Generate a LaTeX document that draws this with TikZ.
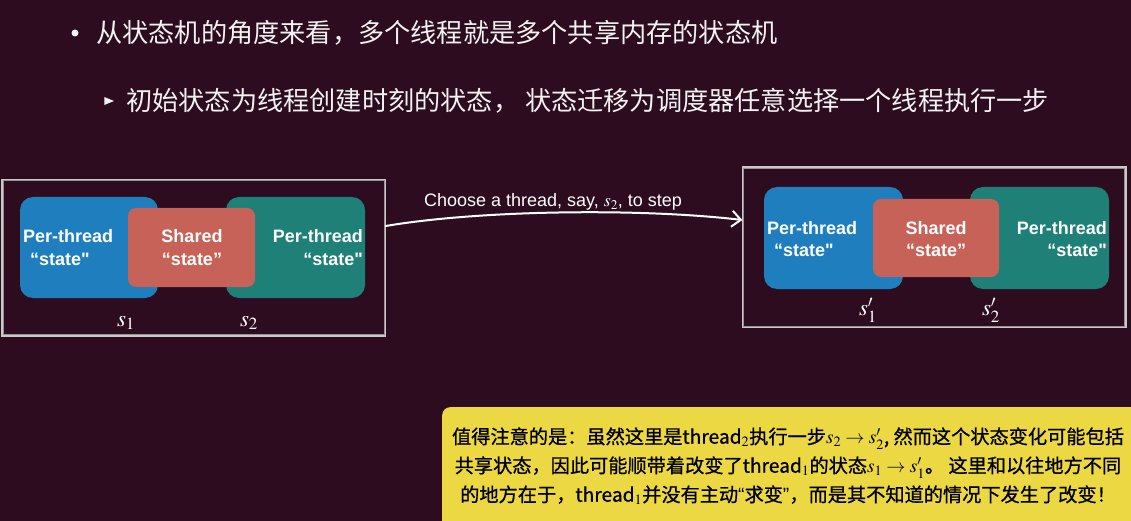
\documentclass[tikz,border=0pt]{standalone}
\usepackage{mathptmx}
\usepackage{fontspec}
\setmainfont{Liberation Sans}
\newfontfamily\sansfnt{Liberation Sans}
\newfontfamily\cjk{Noto Sans CJK SC}
\newfontfamily\cjknote{Noto Sans CJK SC}[FakeBold=0.8]
\usetikzlibrary{arrows.meta,shapes.geometric}

\definecolor{bgcol}{RGB}{44,12,30}
\definecolor{blueblk}{RGB}{31,126,190}
\definecolor{tealblk}{RGB}{31,128,120}
\definecolor{redblk}{RGB}{198,98,88}
\definecolor{framecol}{RGB}{200,200,200}
\definecolor{notecol}{RGB}{236,216,66}
\definecolor{titlecol}{RGB}{242,242,242}

\tikzset{
  frame/.style={draw=framecol, line width=1.3pt, rectangle, inner sep=0pt},
  frame2/.style={draw=framecol!70!bgcol, line width=0.8pt},
  blk/.style={rectangle, rounded corners=13pt, inner sep=0pt},
  sharedblk/.style={rectangle, rounded corners=8pt, inner sep=0pt, fill=redblk},
  lbl/.style={text=white, font=\sansfnt\fontsize{18}{20}\selectfont\bfseries, inner sep=0pt},
  svar/.style={text=white, font=\fontsize{23}{25}\selectfont, inner sep=0pt},
  title/.style={text=titlecol, font=\cjk\fontsize{26.2}{28}\selectfont, anchor=west, inner sep=0pt},
  flow/.style={draw=white, line width=2pt, line cap=round,
    -{Straight Barb[length=9pt, width=16pt, line width=2pt]}},
}

\begin{document}
\begin{tikzpicture}[x=1pt, y=-1pt]
\useasboundingbox (0,0) rectangle (1131,521);
\fill[bgcol] (0,0) rectangle (1131,521);

% headings
\node[circle, fill=titlecol, inner sep=0pt, minimum size=7pt] (dot1) at (75,33) {};
\node[title] (head1) at (96,33) {从状态机的角度来看，多个线程就是多个共享内存的状态机};
\node[isosceles triangle, fill=titlecol, inner sep=0pt, minimum height=6pt, minimum width=8pt] (tri1) at (107,101) {};
\node[title] (head2) at (126,101) {初始状态为线程创建时刻的状态， 状态迁移为调度器任意选择一个线程执行一步};

% left state machine
\node[frame, minimum width=383pt, minimum height=156pt] (lframe) at (193.5,258) {};
\draw[frame2] ([shift={(2,1.5)}]lframe.north west) rectangle ([shift={(-1.5,-2)}]lframe.south east);
\node[blk, fill=blueblk, minimum width=138pt, minimum height=101pt] (lthr1) at (89,247.5) {};
\node[blk, fill=tealblk, minimum width=139pt, minimum height=101pt] (lthr2) at (295.5,247.5) {};
\node[sharedblk, minimum width=127pt, minimum height=79pt] (lshared) at (191.5,247.5) {};
\node[lbl, anchor=west] (lt1a) at (23,236) {Per-thread};
\node[lbl, anchor=west] (lt1b) at (30,259) {“state"};
\node[lbl] (lsha) at (192,236) {Shared};
\node[lbl] (lshb) at (192,259) {“state”};
\node[lbl, anchor=east] (lt2a) at (363,236) {Per-thread};
\node[lbl, anchor=east] (lt2b) at (363,259) {“state"};
\node[svar] (ls1) at (126,323) {$s_1$};
\node[svar] (ls2) at (249,323) {$s_2$};

% right state machine
\node[frame, minimum width=383pt, minimum height=160pt] (rframe) at (934.5,247) {};
\draw[frame2] ([shift={(1.5,2)}]rframe.north west) rectangle ([shift={(-2,-1.5)}]rframe.south east);
\node[blk, fill=blueblk, minimum width=139pt, minimum height=102pt] (rthr1) at (833.5,238) {};
\node[blk, fill=tealblk, minimum width=139pt, minimum height=102pt] (rthr2) at (1039.5,238) {};
\node[sharedblk, minimum width=126pt, minimum height=78pt] (rshared) at (936,238) {};
\node[lbl, anchor=west] (rt1a) at (767,228) {Per-thread};
\node[lbl, anchor=west] (rt1b) at (774,250) {“state"};
\node[lbl] (rsha) at (936,228) {Shared};
\node[lbl] (rshb) at (936,250) {“state”};
\node[lbl, anchor=east] (rt2a) at (1107,228) {Per-thread};
\node[lbl, anchor=east] (rt2b) at (1107,250) {“state"};
\node[svar] (rs1) at (868,310) {$s'_1$};
\node[svar] (rs2) at (991,310) {$s'_2$};

% transition
\coordinate (from) at (lframe.east |- 0,226);
\coordinate (to) at (rframe.west |- 0,220);
\draw[flow] (from) .. controls (480,210) and (640,208) .. (to);
\node[text=white, font=\sansfnt\fontsize{18}{20}\selectfont, inner sep=0pt] (step) at (553,202)
  {Choose a thread, say, $s_2$, to step};

% remark
\node[rectangle, rounded corners=8pt, fill=notecol, anchor=north west,
      minimum width=710pt, minimum height=130pt] (note) at (442,407) {};
\node[font=\cjknote\fontsize{19.2}{29}\selectfont, text=black, align=center, inner sep=0pt] (notetxt) at (788,466)
  {值得注意的是：虽然这里是thread$_2$执行一步$s_2 \rightarrow s'_2$, 然而这个状态变化可能包括\\
   共享状态，因此可能顺带着改变了thread$_1$的状态$s_1 \rightarrow s'_1$。 这里和以往地方不同\\
   的地方在于，thread$_1$并没有主动{\sansfnt “}求变{\sansfnt ”}，而是其不知道的情况下发生了改变！};
\end{tikzpicture}
\end{document}
